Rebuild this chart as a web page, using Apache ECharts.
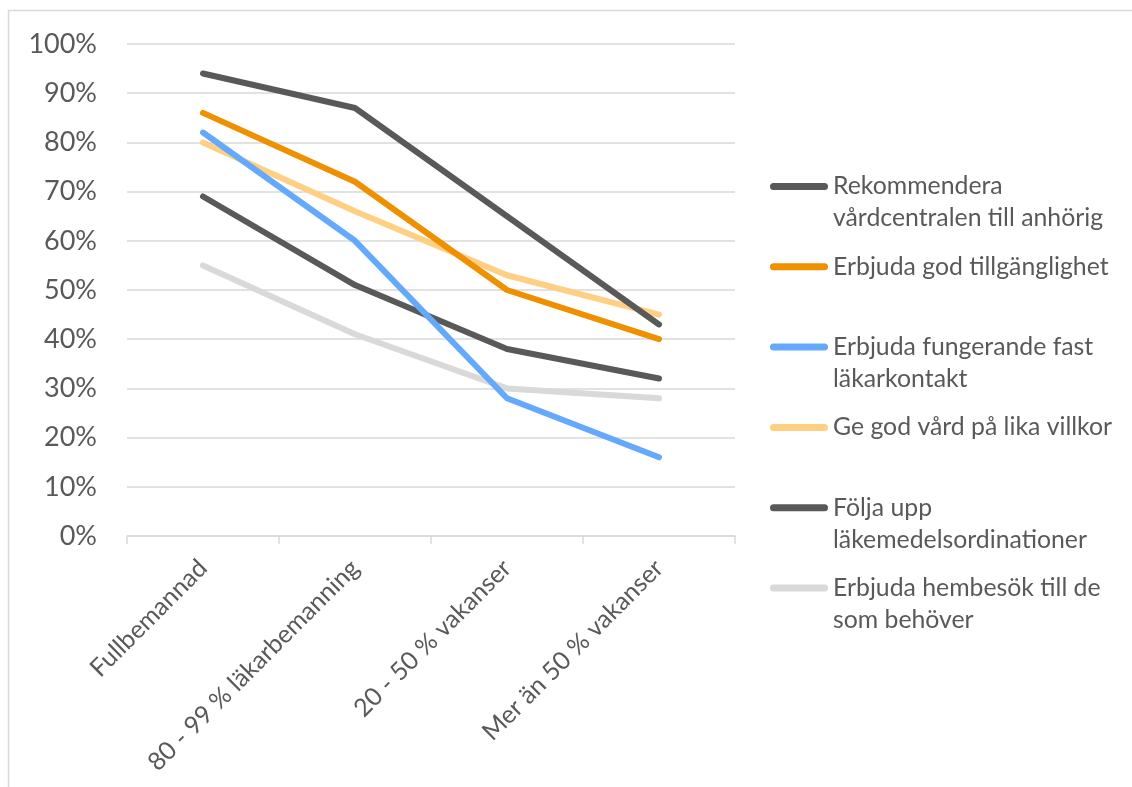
<!DOCTYPE html>
<html><head><meta charset="utf-8">
<script src="https://cdn.jsdelivr.net/npm/echarts@6/dist/echarts.min.js"></script>
<style>html,body{margin:0;padding:0;background:#fff}#c{width:1132px;height:787px}</style>
</head><body><div id="c"></div>
<script>
var categories = ['Fullbemannad', '80 - 99 % läkarbemanning', '20 - 50 % vakanser', 'Mer än 50 % vakanser'];
var seriesNames = [
  'Rekommendera\nvårdcentralen till anhörig',
  'Erbjuda god tillgänglighet',
  'Erbjuda fungerande fast\nläkarkontakt',
  'Ge god vård på lika villkor',
  'Följa upp\nläkemedelsordinationer',
  'Erbjuda hembesök till de\nsom behöver'
];
var rekommendera = [94, 87, 65, 43];
var tillganglighet = [86, 72, 50, 40];
var lakarkontakt = [82, 60, 28, 16];
var likaVillkor = [80, 66, 53, 45];
var foljaUpp = [69, 51, 38, 32];
var hembesok = [55, 41, 30, 28];
var yTicks = [0, 10, 20, 30, 40, 50, 60, 70, 80, 90, 100];
var colors = ['#595959', '#EE9000', '#64A9FB', '#FFCF84', '#595959', '#D9D9D9'];
var allValues = [rekommendera, tillganglighet, lakarkontakt, likaVillkor, foljaUpp, hembesok];

var FONT = 'Lato, "Open Sans", sans-serif';
var LH = 32;
var legends = seriesNames.map(function (n, i) {
  var twoLines = n.indexOf('\n') >= 0;
  var centerY = 186.5 + i * 80.3;
  return {
    data: [n],
    left: 770,
    top: twoLines ? centerY - 1.5 * LH : centerY - 0.5 * LH,
    orient: 'vertical',
    icon: 'path://M3.5,0 H54.5 A3.5,3.5 0 0 1 54.5,7 H3.5 A3.5,3.5 0 0 1 3.5,0 Z',
    itemWidth: 58,
    itemHeight: 7,
    itemGap: 0,
    padding: 0,
    selectedMode: false,
    formatter: function (name) { return name.indexOf('\n') >= 0 ? '\n' + name : name; },
    textStyle: {fontFamily: FONT, fontSize: 24.8, color: '#595959', lineHeight: LH}
  };
});

var chart = echarts.init(document.getElementById('c'), null, {renderer: 'canvas'});
chart.setOption({
  animation: false,
  backgroundColor: '#fff',
  graphic: [{
    type: 'rect', silent: true,
    shape: {x: 8.5, y: 10.5, width: 1400, height: 1200},
    style: {fill: 'none', stroke: '#D9D9D9', lineWidth: 1.5}
  }],
  legend: legends,
  grid: {left: 127, right: 397, top: 44, bottom: 251, containLabel: false},
  xAxis: {
    type: 'category',
    data: categories,
    boundaryGap: true,
    axisLine: {show: true, lineStyle: {color: '#D9D9D9', width: 1.5}},
    axisTick: {show: true, length: 8, lineStyle: {color: '#D9D9D9', width: 1.5}},
    axisLabel: {rotate: 45, margin: 28, fontFamily: FONT, fontSize: 25, color: '#595959'}
  },
  yAxis: {
    type: 'value',
    min: yTicks[0], max: yTicks[yTicks.length - 1], interval: 10,
    axisLine: {show: false}, axisTick: {show: false},
    splitLine: {lineStyle: {color: '#D9D9D9', width: 1.5}},
    axisLabel: {margin: 30, fontFamily: FONT, fontSize: 27, color: '#595959',
      formatter: function (v) { return v + '%'; }}
  },
  series: seriesNames.map(function (n, i) {
    return {
      name: n, type: 'line', data: allValues[i],
      symbol: 'none', showSymbol: false,
      color: colors[i],
      lineStyle: {width: 6, color: colors[i], cap: 'round', join: 'round'},
      itemStyle: {color: colors[i]},
      z: 10 - i
    };
  })
});
</script></body></html>
